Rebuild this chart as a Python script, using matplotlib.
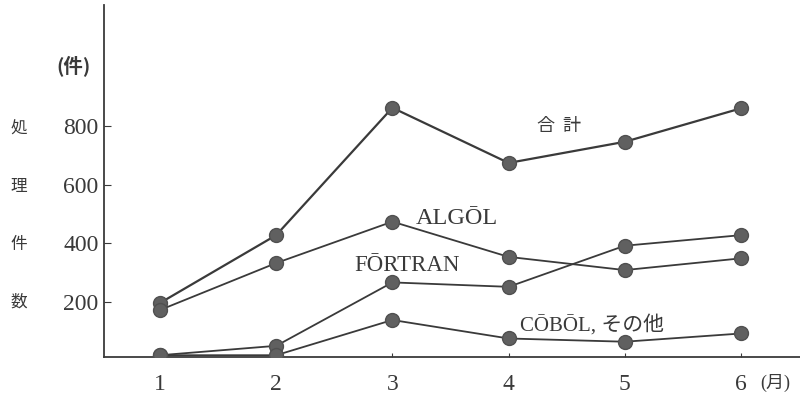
import matplotlib
matplotlib.use("Agg")
import matplotlib.pyplot as plt

plt.rcParams['font.family'] = ['Liberation Serif', 'Noto Sans CJK JP', 'DejaVu Sans']

months = [1, 2, 3, 4, 5, 6]
total = [197, 428, 862, 674, 746, 860]
algol = [173, 333, 474, 354, 309, 349]
fortran = [19, 51, 267, 252, 392, 428]
cobol = [19, 19, 139, 76, 65, 93]

yticks = [200, 400, 600, 800]
ylabel_chars = ['処', '理', '件', '数']

ink = '#3a3a3a'
fig = plt.figure(figsize=(8, 3.97), dpi=100)
ax = fig.add_axes([0.13, 0.1008, 0.87, 0.8866])

for vals, lw in [(total, 1.6), (algol, 1.3), (fortran, 1.3), (cobol, 1.3)]:
    ax.plot(months, vals, color=ink, linewidth=lw, marker='o', markersize=10,
            markerfacecolor='#606060', markeredgecolor='#505050', zorder=3)

ax.set_xlim(0.518, 6.508)
ax.set_ylim(13, 1212)

ax.spines['top'].set_visible(False)
ax.spines['right'].set_visible(False)
ax.spines['left'].set_color(ink)
ax.spines['bottom'].set_color(ink)
ax.spines['left'].set_linewidth(1.3)
ax.spines['bottom'].set_linewidth(1.3)

ax.set_xticks(months)
ax.set_xticklabels([str(m) for m in months])
ax.set_yticks(yticks)
ax.set_yticklabels([str(v) for v in yticks])
ax.tick_params(axis='both', direction='in', colors=ink, labelsize=17, length=5)
ax.tick_params(axis='x', pad=12, length=3)
ax.tick_params(axis='y', pad=4)

# unit labels
ax.text(6.17, -75, '(月)', fontsize=13, color=ink,
        family=['Liberation Serif', 'Noto Sans CJK JP'], ha='left', va='center')
fig.text(0.092, 0.835, '(件)', fontsize=14, color=ink, fontweight='bold',
         family=['Noto Sans CJK JP'], ha='center', va='center')
for i, ch in enumerate(ylabel_chars):
    fig.text(0.023, 0.675 - i * 0.145, ch, fontsize=12, color=ink,
             family=['Noto Sans CJK JP'], ha='center', va='center')

# series labels
ax.text(4.43, 800, '合  計', fontsize=13, color=ink, family=['Noto Sans CJK JP'],
        ha='center', va='center')
ax.text(3.2, 485, 'ALGŌL', fontsize=17.5, color=ink, ha='left', va='center')
ax.text(2.67, 325, 'FŌRTRAN', fontsize=16.5, color=ink, ha='left', va='center')
ax.text(4.1, 122, 'CŌBŌL, その他', fontsize=15, color=ink,
        family=['Liberation Serif', 'Noto Sans CJK JP'], ha='left', va='center')

fig.savefig('out.png', dpi=100)
